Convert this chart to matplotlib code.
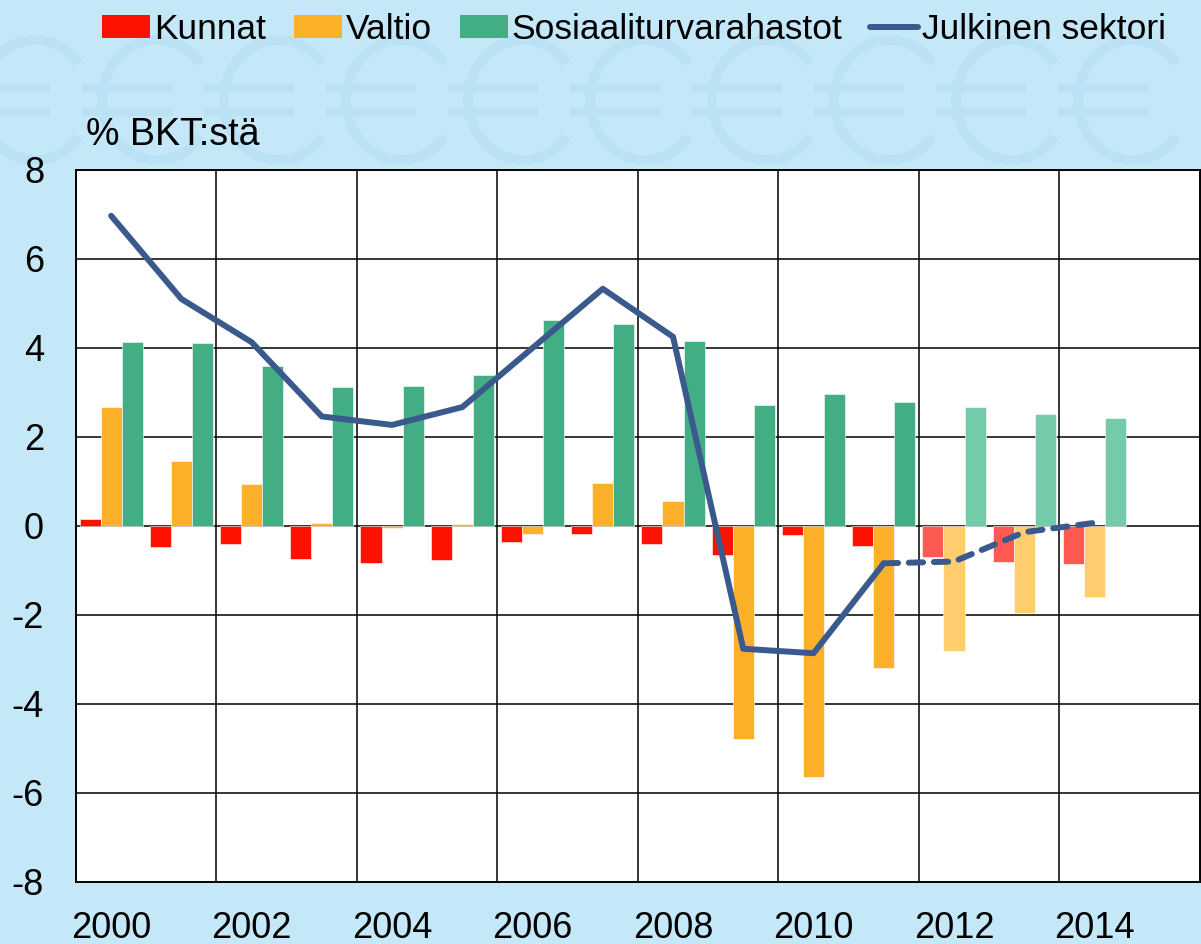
"""Julkisyhteisöjen rahoitusjäämä sektoreittain, % BKT:stä."""
import matplotlib
matplotlib.use("Agg")
import matplotlib.pyplot as plt  # noqa: E402
import numpy as np  # noqa: E402
from matplotlib.patches import Arc, Patch  # noqa: E402
from matplotlib.lines import Line2D  # noqa: E402

plt.rcParams["font.family"] = ["Liberation Sans", "DejaVu Sans"]
plt.rcParams["axes.unicode_minus"] = False

# Data luettu kuvasta
vuodet = list(range(2000, 2015))
kunnat = [0.16, -0.47, -0.41, -0.74, -0.84, -0.77, -0.35, -0.17, -0.41,
          -0.65, -0.20, -0.44, -0.69, -0.81, -0.85]
valtio = [2.67, 1.46, 0.95, 0.07, -0.05, 0.04, -0.17, 0.97, 0.55,
          -4.79, -5.63, -3.19, -2.82, -1.95, -1.60]
sosiaali = [4.14, 4.11, 3.60, 3.12, 3.15, 3.39, 4.62, 4.54, 4.15,
            2.72, 2.97, 2.79, 2.67, 2.52, 2.43]
julkinen = [6.97, 5.10, 4.13, 2.46, 2.27, 2.67, 4.00, 5.33, 4.25,
            -2.76, -2.86, -0.84, -0.80, -0.14, 0.07]
ennuste_alkaa = 2012  # ennustevuodet vaaleammalla
x_labels = [str(v) for v in range(2000, 2015, 2)]

series = [
    ("Kunnat", kunnat, "#FF1100", "#FF5A52"),
    ("Valtio", valtio, "#FDB12A", "#FFCC6E"),
    ("Sosiaaliturvarahastot", sosiaali, "#43AE83", "#74CBA9"),
]
line_color = "#3A5A8E"
bg = "#C4E8F7"

fig = plt.figure(figsize=(12.01, 9.44), dpi=100, facecolor=bg)

# Taustan euromerkit (koriste), piirretty kaarina
deco = fig.add_axes([0, 0, 1, 1], zorder=-1)
deco.set_xlim(0, 1201)
deco.set_ylim(944, 0)
deco.axis("off")
wm = "#BAE2F4"
for cx in np.arange(35, 1201, 122):
    deco.add_patch(Arc((cx, 100), 110, 120, theta1=40, theta2=320,
                       color=wm, lw=7))
    deco.plot([cx - 75, cx + 15], [88, 88], color=wm, lw=6,
              solid_capstyle="butt")
    deco.plot([cx - 75, cx + 15], [112, 112], color=wm, lw=6,
              solid_capstyle="butt")

ax = fig.add_axes([0.0633, 0.0657, 0.9357, 0.7543])
ax.set_facecolor("white")

x = np.arange(len(vuodet))
width = 0.3
offsets = [-0.3, 0.0, 0.3]
forecast = np.array(vuodet) >= ennuste_alkaa
handles = []
for (name, vals, col, col_light), off in zip(series, offsets):
    colors = [col_light if f else col for f in forecast]
    ax.bar(x + off, vals, width=width, color=colors, edgecolor="white",
           linewidth=0.4, zorder=3)
    handles.append(Patch(facecolor=col, label=name))

i0 = vuodet.index(2011)
ax.plot(x[:i0 + 1], julkinen[:i0 + 1], color=line_color, lw=4.3,
        solid_capstyle="round", solid_joinstyle="round", zorder=4)
ax.plot(x[i0:], julkinen[i0:], color=line_color, lw=4.3,
        linestyle=(0, (2.4, 1.8)), dash_capstyle="round", zorder=4)
handles.append(Line2D([], [], color=line_color, lw=4.3,
                      solid_capstyle="round", label="Julkinen sektori"))

ax.set_xlim(-0.5, len(vuodet) + 0.5)
ax.set_ylim(-8, 8)
ax.set_yticks(range(-8, 9, 2))
ax.set_xticks(x[::2])
ax.set_xticklabels(x_labels)
ax.set_xticks(np.arange(-0.5, len(vuodet) + 0.5, 2), minor=True)
ax.grid(True, which="minor", axis="x", color="black", lw=1.1, zorder=1)
ax.grid(True, which="major", axis="y", color="black", lw=1.1, zorder=1)
ax.tick_params(which="both", length=0, labelsize=26, colors="black")
ax.tick_params(axis="y", pad=23)
ax.tick_params(axis="x", pad=21)
for s in ax.spines.values():
    s.set_color("black")
    s.set_linewidth(1.4)

fig.text(86 / 1201, 1 - 135 / 944, "% BKT:stä", fontsize=27,
         ha="left", va="center")

fig.legend(handles=handles, loc="center", bbox_to_anchor=(0.528, 0.969),
           ncol=4, frameon=False, fontsize=25.5, handlelength=1.35,
           handleheight=0.6, handletextpad=0.1, columnspacing=0.8,
           borderpad=0)

fig.savefig("out.png", dpi=100, facecolor=fig.get_facecolor())
